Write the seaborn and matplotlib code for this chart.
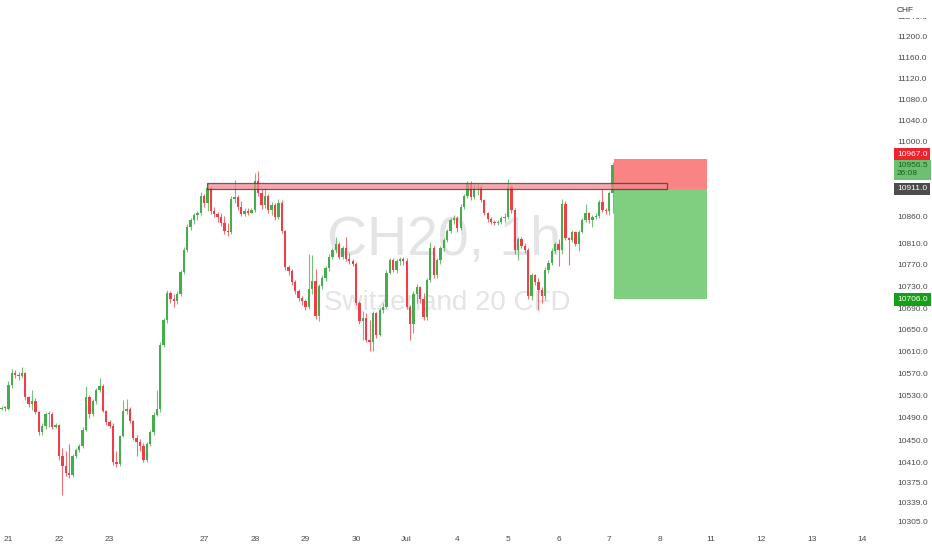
import numpy as np
import matplotlib
matplotlib.use("Agg")
import matplotlib.pyplot as plt
import matplotlib.transforms as mtransforms
from matplotlib.patches import Rectangle
from matplotlib.ticker import NullLocator, NullFormatter, FormatStrFormatter
import seaborn as sns

sns.set_theme(style="white")
plt.rcParams["font.family"] = ["Liberation Sans", "DejaVu Sans"]

# CH20 1h candles, 20 Jun -> 7 Jul (open of each bar = previous close)
first_open = 10506
close = [
    10508, 10507, 10550, 10572, 10568, 10565, 10572, 10527, 10515, 10520,  # 0
    10500, 10464, 10476, 10497, 10498, 10474, 10477, 10421, 10403, 10392,  # 10
    10388, 10421, 10432, 10440, 10469, 10528, 10497, 10520, 10540, 10548,  # 20
    10503, 10482, 10476, 10410, 10407, 10457, 10502, 10506, 10484, 10454,  # 30
    10447, 10440, 10415, 10443, 10464, 10496, 10506, 10622, 10668, 10718,  # 40
    10706, 10702, 10716, 10756, 10797, 10840, 10852, 10862, 10866, 10898,  # 50
    10885, 10912, 10870, 10864, 10858, 10848, 10832, 10830, 10893, 10896,  # 60
    10878, 10864, 10870, 10866, 10872, 10926, 10904, 10880, 10898, 10872,  # 70
    10880, 10858, 10884, 10832, 10766, 10758, 10738, 10721, 10708, 10702,  # 80
    10692, 10725, 10740, 10675, 10730, 10745, 10763, 10785, 10797, 10809,  # 90
    10785, 10800, 10780, 10776, 10772, 10700, 10666, 10672, 10632, 10628,  # 100
    10680, 10640, 10686, 10692, 10755, 10779, 10760, 10776, 10780, 10776,  # 110
    10692, 10660, 10715, 10728, 10707, 10673, 10742, 10800, 10750, 10778,  # 120
    10800, 10815, 10832, 10852, 10856, 10838, 10878, 10898, 10920, 10895,  # 130
    10912, 10915, 10890, 10866, 10855, 10850, 10847, 10849, 10856, 10858,  # 140
    10915, 10872, 10797, 10818, 10805, 10797, 10712, 10750, 10738, 10723,  # 150
    10712, 10760, 10773, 10795, 10808, 10797, 10882, 10820, 10815, 10830,  # 160
    10808, 10830, 10852, 10866, 10852, 10858, 10860, 10887, 10872, 10870,  # 170
    10903, 10956.5,                                                        # 180
]
high = [
    10512, 10511, 10556, 10578, 10576, 10574, 10582, 10574, 10529, 10540,
    10526, 10503, 10480, 10500, 10503, 10500, 10481, 10479, 10436, 10430,
    10443, 10425, 10436, 10444, 10473, 10547, 10532, 10525, 10545, 10562,
    10552, 10505, 10486, 10480, 10430, 10460, 10522, 10525, 10510, 10486,
    10460, 10452, 10445, 10446, 10468, 10500, 10540, 10628, 10672, 10724,
    10722, 10715, 10722, 10760, 10802, 10845, 10857, 10866, 10870, 10905,
    10902, 10922, 10916, 10878, 10868, 10866, 10860, 10848, 10898, 10928,
    10900, 10888, 10876, 10875, 10876, 10940, 10945, 10910, 10912, 10902,
    10886, 10884, 10892, 10890, 10835, 10770, 10762, 10742, 10725, 10712,
    10706, 10790, 10788, 10762, 10735, 10750, 10768, 10790, 10800, 10822,
    10812, 10805, 10822, 10792, 10780, 10775, 10702, 10685, 10680, 10668,
    10685, 10683, 10690, 10700, 10760, 10782, 10782, 10780, 10785, 10784,
    10782, 10695, 10722, 10735, 10730, 10718, 10746, 10812, 10805, 10782,
    10805, 10820, 10836, 10856, 10862, 10860, 10882, 10902, 10925, 10925,
    10920, 10922, 10918, 10892, 10868, 10858, 10852, 10853, 10860, 10866,
    10930, 10918, 10875, 10822, 10822, 10810, 10800, 10755, 10752, 10745,
    10728, 10765, 10778, 10800, 10812, 10818, 10893, 10888, 10822, 10835,
    10832, 10834, 10856, 10882, 10868, 10862, 10866, 10890, 10910, 10876,
    10908, 10962,
]
low = [
    10504, 10503, 10505, 10545, 10562, 10558, 10562, 10522, 10510, 10505,
    10497, 10460, 10460, 10470, 10474, 10470, 10472, 10415, 10352, 10385,
    10382, 10384, 10418, 10428, 10436, 10466, 10490, 10494, 10515, 10536,
    10500, 10478, 10472, 10405, 10402, 10404, 10455, 10498, 10480, 10450,
    10422, 10430, 10410, 10411, 10440, 10460, 10494, 10500, 10618, 10662,
    10700, 10692, 10698, 10712, 10752, 10793, 10835, 10846, 10852, 10862,
    10878, 10870, 10865, 10858, 10850, 10842, 10826, 10824, 10826, 10884,
    10872, 10860, 10860, 10862, 10866, 10868, 10898, 10874, 10876, 10866,
    10862, 10852, 10854, 10828, 10760, 10750, 10733, 10716, 10703, 10696,
    10686, 10688, 10715, 10670, 10666, 10725, 10740, 10758, 10780, 10792,
    10780, 10780, 10776, 10772, 10768, 10695, 10660, 10632, 10628, 10611,
    10612, 10635, 10638, 10680, 10690, 10752, 10756, 10755, 10770, 10770,
    10688, 10632, 10645, 10700, 10700, 10668, 10668, 10738, 10745, 10745,
    10772, 10796, 10812, 10828, 10846, 10830, 10834, 10874, 10894, 10890,
    10892, 10900, 10886, 10862, 10850, 10846, 10843, 10844, 10846, 10850,
    10855, 10866, 10790, 10779, 10800, 10792, 10707, 10705, 10732, 10686,
    10700, 10705, 10755, 10770, 10792, 10768, 10790, 10815, 10770, 10812,
    10805, 10795, 10828, 10850, 10848, 10840, 10854, 10856, 10868, 10865,
    10862, 10866,
]

# time axis: bar index where each day starts (future days continue the grid)
day_bars = [2, 17, 32, 60, 75, 90, 105, 120, 135, 150, 165, 180, 195, 210, 225, 240, 255]
day_labels = ["21", "22", "23", "27", "28", "29", "30", "Jul", "4", "5", "6", "7",
              "8", "11", "12", "13", "14"]
price_ticks = [10305, 10339, 10375, 10410, 10450, 10490, 10530, 10570, 10610, 10650,
               10690, 10730, 10770, 10810, 10860, 11000, 11040, 11080, 11120, 11160,
               11200, 11240]

# drawings
zone_low, zone_high = 10910, 10923
zone_from, zone_to = 60.9, 197.0
entry, stop, target = 10911.0, 10967.0, 10706.0
last_price, countdown = 10956.5, "26:08"
pos_from, pos_to = 181.4, 208.9

up_col, down_col = "#47ad4c", "#ee3f48"

c = np.array(close, dtype=float)
h = np.array(high, dtype=float)
l = np.array(low, dtype=float)
o = np.r_[first_open, c[:-1]]
idx = np.arange(len(c))
rising = c >= o
cols = np.where(rising, up_col, down_col)
body = c - o
body = np.where(np.abs(body) < 1.5, 1.5, body)

fig = plt.figure(figsize=(9.32, 5.5), dpi=100)
fig.patch.set_facecolor("white")
ax = fig.add_axes([0, 22 / 550, 888 / 932, 528 / 550])
ax.set_yscale("log")

# watermark
ax.text(444 / 932, 1 - 255 / 550, "CH20, 1h", transform=fig.transFigure,
        ha="center", va="baseline", fontsize=40, color="#e4e4e6", zorder=0.2)
ax.text(447 / 932, 1 - 310 / 550, "Switzerland 20 CFD", transform=fig.transFigure,
        ha="center", va="baseline", fontsize=20, color="#e4e4e6", zorder=0.2)

# candles
ax.vlines(idx, l, h, colors=cols, linewidth=0.8, alpha=0.75, zorder=1)
ax.bar(idx, body, bottom=o, width=0.7, color=cols, linewidth=0, zorder=1.2)

# long/short position box
ax.add_patch(Rectangle((pos_from, entry), pos_to - pos_from, stop - entry,
                       facecolor="#fa8484", edgecolor="none", zorder=1.5))
ax.add_patch(Rectangle((pos_from, target), pos_to - pos_from, entry - target,
                       facecolor="#80ce80", edgecolor="none", zorder=1.5))

# resistance zone
ax.add_patch(Rectangle((zone_from, zone_low), zone_to - zone_from, zone_high - zone_low,
                       facecolor="#f08a94", alpha=0.75, edgecolor="#5a2828",
                       linewidth=0.9, zorder=3))

ax.set_xlim(-0.49, 262.6)
ax.set_ylim(10293.5, 11271)

ax.yaxis.tick_right()
ax.set_yticks(price_ticks)
ax.yaxis.set_major_formatter(FormatStrFormatter("%.1f"))
ax.yaxis.set_minor_locator(NullLocator())
ax.yaxis.set_minor_formatter(NullFormatter())
ax.set_xticks(day_bars)
ax.set_xticklabels(day_labels)
ax.tick_params(axis="y", length=0, pad=6.5, labelsize=6, labelcolor="#4a4a4a")
ax.tick_params(axis="x", length=0, pad=6, labelsize=6, labelcolor="#4a4a4a")
for s in ax.spines.values():
    s.set_visible(False)
ax.grid(False)

# price labels on the scale
trans = mtransforms.blended_transform_factory(ax.transAxes, ax.transData)
def price_tag(y, text, fc, tc, dy=0):
    ax.annotate(text, xy=(1, y), xycoords=trans, xytext=(6.5, dy),
                textcoords="offset points", ha="left", va="center", fontsize=6,
                color=tc, linespacing=1.1, annotation_clip=False, zorder=5,
                bbox=dict(boxstyle="square,pad=0.35", fc=fc, ec="none"))

price_tag(stop, f"{stop:.1f}", "#f2222c", "white", dy=3.6)
price_tag(last_price, f"{last_price:.1f}\n{countdown}", "#6cc070", "#1d5e22", dy=-3.6)
price_tag(entry, f"{entry:.1f}", "#4d4d4d", "white")
price_tag(target, f"{target:.1f}", "#14a014", "white")

# currency header
fig.add_artist(Rectangle((889 / 932, 1 - 18 / 550), 43 / 932, 18 / 550,
                         transform=fig.transFigure, facecolor="white",
                         edgecolor="none", zorder=4))
fig.text(897 / 932, 1 - 10 / 550, "CHF", ha="left", va="center", fontsize=6,
         color="#333333", zorder=5)

fig.savefig("out.png", dpi=100, facecolor="white")
